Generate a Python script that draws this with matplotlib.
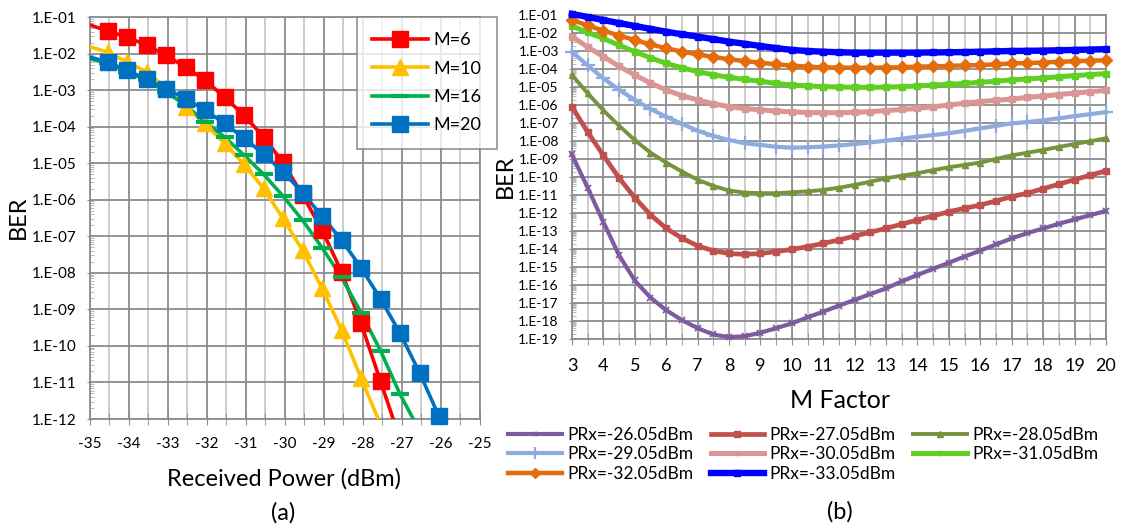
import numpy as np
import matplotlib
matplotlib.use("Agg")
import matplotlib.pyplot as plt
from matplotlib.ticker import FixedLocator, FixedFormatter, MultipleLocator, LogLocator, NullFormatter

plt.rcParams['font.family'] = ['Lato', 'DejaVu Sans']

# ---------------- (a) BER vs received power, exponents of 10 ----------------
power_a = [-35.05, -34.55, -34.05, -33.55, -33.05, -32.55, -32.05, -31.55, -31.05, -30.55,
           -30.05, -29.55, -29.05, -28.55, -28.05, -27.55, -27.05, -26.55, -26.05]
ber_m6 = [-1.2, -1.38, -1.55, -1.77, -2.05, -2.37, -2.73, -3.19, -3.69, -4.28,
          -4.98, -5.87, -6.83, -7.97, -9.38, -10.97, -12.55]
ber_m10 = [-1.8, -1.96, -2.23, -2.5, -2.95, -3.46, -3.91, -4.46, -5.03, -5.69,
           -6.51, -7.38, -8.42, -9.56, -10.88, -12.15]
ber_m16 = [-2.13, -2.27, -2.5, -2.73, -3.05, -3.41, -3.87, -4.28, -4.78, -5.30,
           -5.90, -6.56, -7.31, -8.12, -9.09, -10.13, -11.32, -12.32]
ber_m20 = [-2.08, -2.23, -2.46, -2.70, -2.96, -3.23, -3.55, -3.91, -4.31, -4.75,
           -5.23, -5.81, -6.45, -7.10, -7.86, -8.71, -9.65, -10.73, -11.93]
labels_a = ['M=6', 'M=10', 'M=16', 'M=20']

# ---------------- (b) BER vs M factor, exponents of 10 ----------------
m_factor = [3, 3.5, 4, 4.5, 5, 5.5, 6, 6.5, 7, 7.5, 8, 8.5, 9, 9.5, 10, 10.5, 11, 11.5,
            12, 12.5, 13, 13.5, 14, 14.5, 15, 15.5, 16, 16.5, 17, 17.5, 18, 18.5, 19, 19.5, 20]
prx_2605 = [-8.75, -10.6, -12.5, -14.35, -15.75, -16.7, -17.4, -17.95, -18.4, -18.75, -18.9, -18.85,
            -18.65, -18.4, -18.13, -17.8, -17.48, -17.15, -16.83, -16.5, -16.19, -15.8, -15.44,
            -15.1, -14.76, -14.42, -14.09, -13.75, -13.41, -13.12, -12.86, -12.6, -12.36, -12.12, -11.89]
prx_2705 = [-6.1, -7.5, -8.8, -10.05, -11.15, -12.1, -12.85, -13.4, -13.82, -14.1, -14.25, -14.3,
            -14.25, -14.15, -14.02, -13.87, -13.69, -13.5, -13.28, -13.07, -12.85, -12.62, -12.39,
            -12.16, -11.93, -11.74, -11.56, -11.33, -11.09, -10.9, -10.65, -10.4, -10.15, -9.9, -9.66]
prx_2805 = [-4.33, -5.35, -6.3, -7.15, -7.95, -8.65, -9.2, -9.7, -10.15, -10.5, -10.75, -10.87,
            -10.9, -10.9, -10.85, -10.8, -10.72, -10.6, -10.44, -10.26, -10.07, -9.93, -9.79,
            -9.62, -9.46, -9.33, -9.2, -9.0, -8.8, -8.65, -8.5, -8.33, -8.17, -8.01, -7.85]
prx_2905 = [-3.04, -3.8, -4.52, -5.15, -5.72, -6.22, -6.65, -7.05, -7.43, -7.72, -7.95, -8.12,
            -8.22, -8.32, -8.37, -8.35, -8.31, -8.25, -8.17, -8.08, -7.98, -7.87, -7.76,
            -7.67, -7.57, -7.44, -7.3, -7.16, -7.02, -6.95, -6.85, -6.74, -6.62, -6.51, -6.4]
prx_3005 = [-2.2, -2.78, -3.31, -3.85, -4.33, -4.78, -5.17, -5.48, -5.72, -5.93, -6.09, -6.2,
            -6.27, -6.34, -6.38, -6.42, -6.43, -6.43, -6.41, -6.37, -6.31, -6.25, -6.19,
            -6.1, -6.0, -5.9, -5.81, -5.74, -5.67, -5.58, -5.5, -5.42, -5.34, -5.26, -5.19]
prx_3105 = [-1.61, -1.97, -2.3, -2.68, -3.04, -3.38, -3.69, -3.93, -4.15, -4.32, -4.46, -4.58,
            -4.68, -4.8, -4.89, -4.94, -4.98, -5.0, -5.02, -5.02, -5.01, -4.98, -4.94,
            -4.9, -4.85, -4.8, -4.74, -4.68, -4.61, -4.55, -4.5, -4.43, -4.37, -4.31, -4.26]
prx_3205 = [-1.28, -1.58, -1.87, -2.14, -2.39, -2.63, -2.85, -3.03, -3.19, -3.33, -3.46, -3.56,
            -3.65, -3.74, -3.81, -3.87, -3.91, -3.92, -3.93, -3.93, -3.92, -3.9, -3.87,
            -3.85, -3.83, -3.8, -3.78, -3.74, -3.69, -3.67, -3.64, -3.6, -3.57, -3.54, -3.51]
prx_3305 = [-0.94, -1.11, -1.28, -1.45, -1.61, -1.77, -1.93, -2.07, -2.2, -2.34, -2.48, -2.6,
            -2.72, -2.84, -2.94, -3.0, -3.04, -3.07, -3.09, -3.09, -3.09, -3.09, -3.09,
            -3.08, -3.07, -3.06, -3.04, -3.02, -3.0, -2.99, -2.98, -2.96, -2.94, -2.92, -2.9]
labels_b = ['PRx=-26.05dBm', 'PRx=-27.05dBm', 'PRx=-28.05dBm', 'PRx=-29.05dBm',
            'PRx=-30.05dBm', 'PRx=-31.05dBm', 'PRx=-32.05dBm', 'PRx=-33.05dBm']

fig = plt.figure(figsize=(11.23, 5.30), dpi=100)
grid_dark = '#8c8c8c'
grid_light = '#c8c8c8'

# ---------------- left chart ----------------
ax1 = fig.add_axes([0.0801, 0.2094, 0.3473, 0.7585])
series_a = [(ber_m6, '#ff0000', 's', 11, 1.0),
            (ber_m10, '#ffc000', '^', 11, 1.0),
            (ber_m16, '#00b050', '_', 13, 3.0),
            (ber_m20, '#0070c0', 's', 11, 1.0)]
handles_a = []
for (vals, col, mk, ms, mew), lab in zip(series_a, labels_a):
    xs = power_a[:len(vals)]
    ys = 10.0 ** np.array(vals)
    ln, = ax1.plot(xs, ys, color=col, lw=2.6, zorder=3)
    # markers only within the plotted range, drawn unclipped
    keep = [i for i in range(1, len(vals)) if vals[i] >= -12]
    pts, = ax1.plot([xs[i] for i in keep], [ys[i] for i in keep], ls='none', marker=mk,
                    ms=ms, color=col, mec=col, mew=mew, clip_on=False, zorder=4)
    handles_a.append((ln, pts))

ax1.set_yscale('log')
ax1.set_xlim(-35, -25)
ax1.set_ylim(1e-12, 1e-1)
exps_a = list(range(-1, -13, -1))
ax1.yaxis.set_major_locator(FixedLocator([10.0 ** e for e in exps_a]))
ax1.yaxis.set_major_formatter(FixedFormatter(['1.E-%02d' % -e for e in exps_a]))
ax1.yaxis.set_minor_locator(LogLocator(base=10, subs=np.arange(2, 10), numticks=40))
ax1.yaxis.set_minor_formatter(NullFormatter())
ax1.xaxis.set_major_locator(MultipleLocator(1))
ax1.xaxis.set_minor_locator(MultipleLocator(0.5))
ax1.xaxis.set_major_formatter(plt.FuncFormatter(lambda v, p: '%d' % round(v)))
ax1.grid(True, which='major', axis='both', color=grid_dark, lw=1.3, zorder=0)
ax1.grid(True, which='minor', axis='x', color=grid_light, lw=1.3, zorder=0)
ax1.tick_params(axis='y', which='major', labelsize=11, length=5, color=grid_dark,
                direction='inout', pad=7)
ax1.tick_params(axis='y', which='minor', length=3, color='#b0b0b0', direction='in', width=0.6)
ax1.tick_params(axis='x', which='both', labelsize=11, length=8, color=grid_dark,
                direction='inout', pad=9)
for s in ax1.spines.values():
    s.set_color(grid_dark)
    s.set_linewidth(1.3)
ax1.set_axisbelow(True)

leg1 = ax1.legend(handles_a, labels_a, loc='upper left',
                  bbox_to_anchor=(357 / 1123, 1 - 17 / 530), bbox_transform=fig.transFigure,
                  fontsize=13, frameon=True, fancybox=False, handlelength=3.1,
                  handletextpad=0.3, labelspacing=0.68, borderpad=0.85, borderaxespad=0)
leg1.get_frame().set_edgecolor('#808080')
leg1.get_frame().set_linewidth(1.3)
leg1.set_zorder(10)

fig.text(18 / 1123, 1 - 217 / 530, 'BER', rotation=90, fontsize=17, ha='center', va='center')
fig.text(284 / 1123, 1 - 479 / 530, 'Received Power (dBm)', fontsize=17, ha='center', va='center')
fig.text(283 / 1123, 1 - 513 / 530, '(a)', fontsize=17, ha='center', va='center')

# ---------------- right chart ----------------
ax2 = fig.add_axes([0.5093, 0.3604, 0.4755, 0.6113])
series_b = [(prx_2605, '#7e5aa0', 'x', 4, 1.3, 3.0),
            (prx_2705, '#c0504d', 's', 5, 1.0, 3.4),
            (prx_2805, '#77933c', '^', 5, 1.0, 2.8),
            (prx_2905, '#8faadc', '+', 10, 1.6, 3.0),
            (prx_3005, '#d99694', 's', 4, 1.0, 3.6),
            (prx_3105, '#5fcf22', 's', 4, 1.0, 3.6),
            (prx_3205, '#e46c0a', 'D', 6, 1.0, 3.2),
            (prx_3305, '#0000ff', 's', 5, 1.0, 4.6)]
handles_b = []
for (vals, col, mk, ms, mew, lw), lab in zip(series_b, labels_b):
    ln, = ax2.plot(m_factor, 10.0 ** np.array(vals), color=col, lw=lw, marker=mk, ms=ms,
                   mec=col, mfc=col, mew=mew, clip_on=False, zorder=3, label=lab)
    handles_b.append(ln)

ax2.set_yscale('log')
ax2.set_xlim(3, 20)
ax2.set_ylim(1e-19, 1e-1)
exps_b = list(range(-1, -20, -1))
ax2.yaxis.set_major_locator(FixedLocator([10.0 ** e for e in exps_b]))
ax2.yaxis.set_major_formatter(FixedFormatter(['1.E-%02d' % -e for e in exps_b]))
ax2.yaxis.set_minor_locator(LogLocator(base=10, subs=np.arange(2, 10), numticks=60))
ax2.yaxis.set_minor_formatter(NullFormatter())
ax2.xaxis.set_major_locator(MultipleLocator(1))
ax2.xaxis.set_minor_locator(MultipleLocator(0.5))
ax2.grid(True, which='major', axis='both', color=grid_dark, lw=1.3, zorder=0)
ax2.grid(True, which='minor', axis='x', color=grid_light, lw=1.3, zorder=0)
ax2.tick_params(axis='y', which='major', labelsize=10, length=5, color=grid_dark,
                direction='inout', pad=7)
ax2.tick_params(axis='y', which='minor', length=3, color='#b0b0b0', direction='in', width=0.6)
ax2.tick_params(axis='x', which='both', labelsize=13, length=8, color=grid_dark,
                direction='inout', pad=10)
for s in ax2.spines.values():
    s.set_color(grid_dark)
    s.set_linewidth(1.3)
ax2.set_axisbelow(True)

# legend is filled column by column, so reorder to read row by row
order = [0, 3, 6, 1, 4, 7, 2, 5]
leg2 = ax2.legend([handles_b[i] for i in order], [labels_b[i] for i in order], ncol=3,
                  loc='upper left', bbox_to_anchor=(508 / 1123, 1 - 427 / 530),
                  bbox_transform=fig.transFigure, frameon=False, fontsize=12.5,
                  handlelength=3.1, handletextpad=0.3, columnspacing=1.0,
                  labelspacing=0.2, borderpad=0, borderaxespad=0, markerscale=0.8)

fig.text(505 / 1123, 1 - 176 / 530, 'BER', rotation=90, fontsize=17, ha='center', va='center')
fig.text(840 / 1123, 1 - 401 / 530, 'M Factor', fontsize=18, ha='center', va='center')
fig.text(840 / 1123, 1 - 512 / 530, '(b)', fontsize=17, ha='center', va='center')

fig.savefig('out.png', dpi=100)
